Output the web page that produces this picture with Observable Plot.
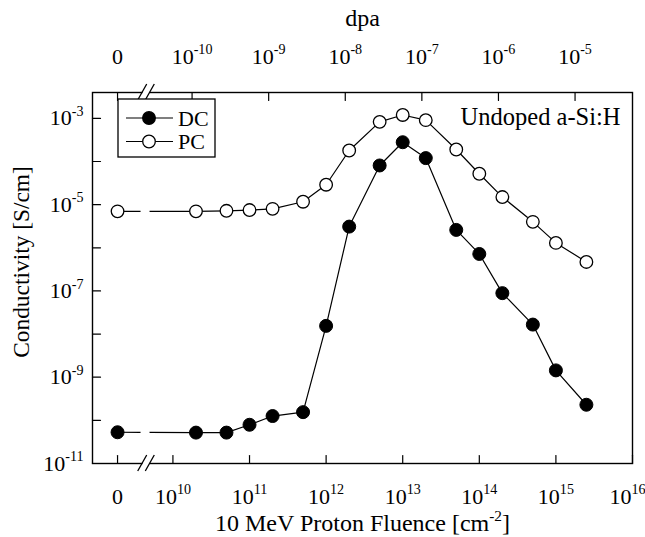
<!DOCTYPE html>
<html><head><meta charset="utf-8">
<script src="https://cdn.jsdelivr.net/npm/d3@7"></script>
<script src="https://cdn.jsdelivr.net/npm/@observablehq/plot@0.6"></script>
<style>body{margin:0;background:#fff;} svg{display:block;}</style>
</head><body><div id="chart"></div>
<script>
// ---- data ----
const fluence = [0, 2e10, 5e10, 1e11, 2e11, 5e11, 1e12, 2e12, 5e12, 1e13, 2e13, 5e13, 1e14, 2e14, 5e14, 1e15, 2.5e15];
const dcValues = [5.3e-11, 5.2e-11, 5.2e-11, 7.9e-11, 1.26e-10, 1.55e-10, 1.55e-8, 3.1e-6, 8.1e-5, 2.8e-4, 1.2e-4, 2.6e-6, 7.2e-7, 8.9e-8, 1.66e-8, 1.44e-9, 2.3e-10];
const pcValues = [7.0e-6, 7.0e-6, 7.2e-6, 7.5e-6, 8.0e-6, 1.17e-5, 2.9e-5, 1.8e-4, 8.3e-4, 1.2e-3, 9.1e-4, 1.9e-4, 5.2e-5, 1.5e-5, 4.0e-6, 1.3e-6, 4.7e-7];
const fluenceTickExps = [10, 11, 12, 13, 14, 15, 16];
const dpaTickExps = [-10, -9, -8, -7, -6, -5];
const yTickExps = [-11, -10, -9, -8, -7, -6, -5, -4, -3];
const yLabelExps = [-11, -9, -7, -5, -3];
const dpaOffsetExp = 20.25;   // log10(fluence) - log10(dpa)
const zeroPos = 9.277;        // axis position used for the value 0 (broken axis)
const breakPos = 9.655;       // position of the axis break marks
const seriesNames = ["DC", "PC"];

// ---- derived tables ----
const pos = f => f === 0 ? zeroPos : Math.log10(f);
const dc = fluence.map((f, i) => ({u: pos(f), v: dcValues[i]}));
const pc = fluence.map((f, i) => ({u: pos(f), v: pcValues[i]}));
const bottomTicks = [{u: zeroPos, label: "0"}, ...fluenceTickExps.map(e => ({u: e, label: `10^{${e}}`}))];
const topTicks = [{u: zeroPos, label: "0"}, ...dpaTickExps.map(e => ({u: e + dpaOffsetExp, label: `10^{${e}}`}))];
const yTicks = yTickExps.map(e => ({v: Math.pow(10, e)}));
const yLabels = yLabelExps.map(e => ({v: Math.pow(10, e), label: `10^{${e}}`}));

const tickUp = {draw(c, l) { c.moveTo(0, 0); c.lineTo(0, -l); }};
const tickDown = {draw(c, l) { c.moveTo(0, 0); c.lineTo(0, l); }};
const tickRight = {draw(c, l) { c.moveTo(0, 0); c.lineTo(l, 0); }};
const FONT = "'Liberation Serif', 'Times New Roman', serif";
const T = {fontFamily: FONT, lineAnchor: "middle", fill: "black"};

const chart = Plot.plot({
  width: 645, height: 537,
  marginLeft: 92, marginRight: 13, marginTop: 92, marginBottom: 74,
  style: {fontFamily: FONT, background: "white", color: "black"},
  x: {type: "linear", domain: [8.95, 16], axis: null},
  y: {type: "log", domain: [1e-11, Math.pow(10, -2.4)], axis: null},
  marks: [
    // inward ticks
    Plot.vector(bottomTicks, {x: "u", frameAnchor: "bottom", length: 8, anchor: "start", shape: tickUp, stroke: "black", strokeWidth: 1.2}),
    Plot.vector(topTicks, {x: "u", frameAnchor: "top", length: 8, anchor: "start", shape: tickDown, stroke: "black", strokeWidth: 1.2}),
    Plot.vector(yTicks, {y: "v", frameAnchor: "left", length: 8, anchor: "start", shape: tickRight, stroke: "black", strokeWidth: 1.2}),
    // tick labels
    Plot.text(bottomTicks.slice(0, -1), {...T, x: "u", text: "label", frameAnchor: "bottom", textAnchor: "middle", dy: 33, fontSize: 22}),
    Plot.text(bottomTicks.slice(-1), {...T, x: "u", text: "label", frameAnchor: "bottom", textAnchor: "middle", dx: -5, dy: 33, fontSize: 22}),
    Plot.text(topTicks, {...T, x: "u", text: "label", frameAnchor: "top", textAnchor: "middle", dy: -36, fontSize: 22}),
    Plot.text(yLabels, {...T, y: "v", text: "label", frameAnchor: "left", dx: -9, textAnchor: "end", fontSize: 22}),
    // titles
    Plot.text(["dpa"], {...T, text: d => d, frameAnchor: "top", textAnchor: "middle", dy: -74, fontSize: 24}),
    Plot.text(["10 MeV Proton Fluence [cm^{-2}]"], {...T, text: d => d, frameAnchor: "bottom", textAnchor: "middle", dy: 59.5, fontSize: 24}),
    Plot.text(["Conductivity [S/cm]"], {...T, text: d => d, frameAnchor: "left", textAnchor: "middle", rotate: -90, dx: -71, dy: -16, fontSize: 23.4}),
    Plot.text(["Undoped a-Si:H"], {...T, text: d => d, frameAnchor: "top-right", textAnchor: "end", dx: -12, dy: 25, fontSize: 24.5}),
    // series lines
    Plot.line(dc.slice(1), {x: "u", y: "v", stroke: "black", strokeWidth: 1.2}),
    Plot.line(pc.slice(1), {x: "u", y: "v", stroke: "black", strokeWidth: 1.2}),
    Plot.link([{a: dc[0], b: dc[1]}, {a: pc[0], b: pc[1]}], {x1: d => d.a.u, y1: d => d.a.v, x2: d => d.b.u, y2: d => d.b.v, stroke: "black", strokeWidth: 1.2, strokeDasharray: "23,9,200"}),
    Plot.dot(dc, {x: "u", y: "v", r: 6.5, fill: "black", stroke: "black", strokeWidth: 1}),
    Plot.dot(pc, {x: "u", y: "v", r: 6.3, fill: "white", stroke: "black", strokeWidth: 1.3}),
    Plot.frame({stroke: "black", strokeWidth: 1.4})
  ]
});
document.getElementById("chart").appendChild(chart);

// superscripts: "base^{exp}rest"
d3.select(chart).selectAll("text").each(function () {
  d3.select(this).style("font-family", FONT);
  const t = this.textContent;
  if (!t.includes("^{")) return;
  const fs = parseFloat(getComputedStyle(this).fontSize) || 22;
  const raise = 0.42 * fs;
  const el = d3.select(this);
  el.text(null);
  const re = /\^\{([^}]*)\}/g;
  let last = 0, m, up = false;
  while ((m = re.exec(t))) {
    const s = el.append("tspan").text(t.slice(last, m.index));
    if (up) s.attr("dy", raise);
    el.append("tspan").attr("dy", -raise).attr("font-size", 0.64 * fs).text(m[1]);
    up = true;
    last = re.lastIndex;
  }
  if (last < t.length) el.append("tspan").attr("dy", up ? raise : 0).text(t.slice(last));
});

// axis break marks and legend
const svg = d3.select(chart);
const xs = chart.scale("x"), ys = chart.scale("y");
const bx = xs.apply(breakPos);
const xLeft = xs.apply(xs.domain[0]);
const yBottom = ys.apply(ys.domain[0]), yTop = ys.apply(ys.domain[1]);
const g = svg.append("g").attr("stroke", "black").attr("stroke-width", 1.3);
for (const yy of [yBottom, yTop]) {
  g.append("rect").attr("x", bx - 3.5).attr("y", yy - 2).attr("width", 7).attr("height", 4).attr("fill", "white").attr("stroke", "none");
  for (const off of [-3.8, 3.8]) {
    g.append("line").attr("x1", bx + off - 4.5).attr("y1", yy + 8).attr("x2", bx + off + 4.5).attr("y2", yy - 8);
  }
}
const lg = svg.append("g").attr("font-size", 22).attr("text-anchor", "start").style("font-family", FONT);
const lx = xLeft + 26, ly = yTop + 7;
lg.append("rect").attr("x", lx).attr("y", ly).attr("width", 97).attr("height", 58).attr("fill", "white").attr("stroke", "black").attr("stroke-width", 1.3);
seriesNames.forEach((name, i) => {
  const cy = ly + 19 + i * 23.5;
  lg.append("line").attr("x1", lx + 8).attr("x2", lx + 55).attr("y1", cy).attr("y2", cy).attr("stroke", "black").attr("stroke-width", 1.2);
  lg.append("circle").attr("cx", lx + 31).attr("cy", cy).attr("r", 6.3)
    .attr("fill", i === 0 ? "black" : "white").attr("stroke", "black").attr("stroke-width", 1.3);
  lg.append("text").attr("x", lx + 60).attr("y", cy).attr("dy", "0.35em").attr("fill", "black").attr("text-anchor", "start").text(name);
});
</script>
</body></html>
